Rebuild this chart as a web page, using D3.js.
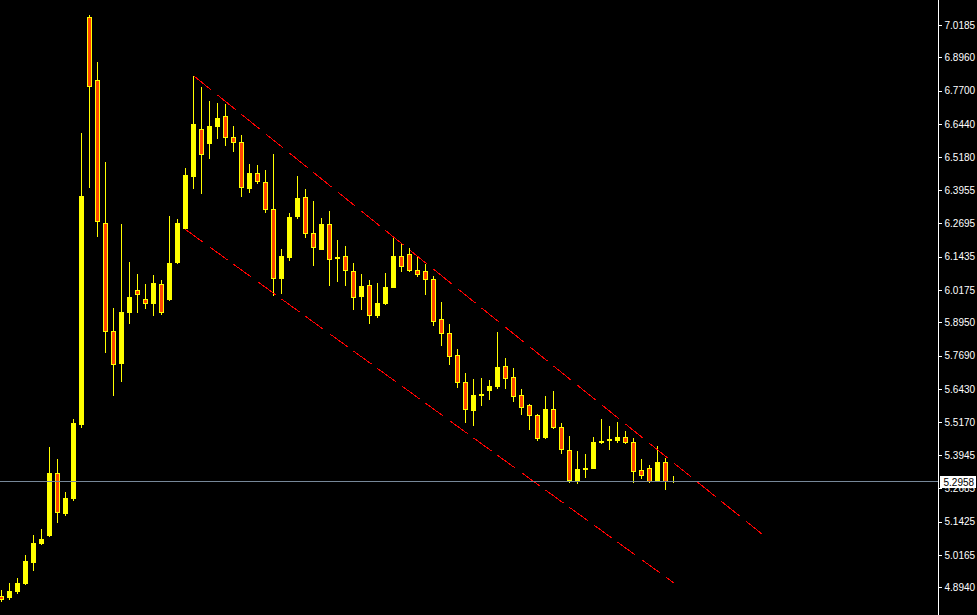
<!DOCTYPE html>
<html>
<head>
<meta charset="utf-8">
<script src="https://cdn.jsdelivr.net/npm/d3@7"></script>
<style>
html,body{margin:0;padding:0;background:#000;overflow:hidden;}
svg{display:block;}
</style>
</head>
<body>
<svg id="chart" width="977" height="615"></svg>
<script>
// ---- data ----
const opens = [4.8624,4.8548,4.8775,4.9077,4.9871,5.0589,5.0891,5.3260,5.1722,5.2277,
5.5073,7.0487,6.8107,6.2693,5.8624,5.7389,5.9316,6.0173,5.9833,5.9656,
6.0400,5.9796,6.1193,6.2478,6.4442,6.6245,6.5701,6.6343,6.6747,6.5954,
6.5765,6.4000,6.4594,6.4254,6.3233,6.0589,6.1382,6.2943,6.3687,6.2327,
6.1696,6.2667,6.1356,6.1458,6.0880,5.9920,6.0373,5.9202,5.9644,6.0260,
6.1458,6.1533,6.0929,6.0891,6.0589,5.9078,5.8549,5.7718,5.6698,5.5613,
5.6180,5.6369,5.6509,5.7302,5.6886,5.6206,5.5829,5.5451,5.4593,5.5678,
5.4997,5.4129,5.2931,5.3384,5.3422,5.4404,5.4480,5.4469,5.4620,5.4431,
5.3373,5.3449,5.2931,5.3675,5.2931];
const highs = [4.8839,4.9104,4.9293,5.0162,5.0917,5.1144,5.4242,5.3789,5.2542,5.5300,
6.6105,7.0563,6.8787,6.5009,5.9493,6.2667,6.1231,6.0778,6.0400,6.0740,
6.0551,6.2969,6.2856,6.4783,6.8258,6.7843,6.7314,6.7238,6.7200,6.6369,
6.6029,6.4934,6.4896,6.4707,6.5311,6.1722,6.3082,6.4480,6.3989,6.3536,
6.2894,6.3158,6.2062,6.1836,6.1193,6.0778,6.0562,6.0449,6.0816,6.2138,
6.1911,6.1760,6.1420,6.1156,6.0702,5.9720,5.8889,5.7944,5.7038,5.6811,
5.6849,5.6773,5.8587,5.7604,5.7226,5.6433,5.5866,5.5500,5.6169,5.6358,
5.5149,5.4657,5.4091,5.3977,5.4620,5.5300,5.5035,5.5186,5.4846,5.4582,
5.3800,5.3562,5.4280,5.3826,5.3146];
const lows = [4.8397,4.8473,4.8700,4.9040,4.9569,5.0551,5.0853,5.1382,5.1646,5.2213,
5.4971,6.4038,6.2187,5.7805,5.6169,5.6709,5.8900,5.9316,5.9456,5.9202,
5.9240,5.9758,6.1156,6.2440,6.3989,6.3812,6.5134,6.5889,6.5625,6.5398,
6.3698,6.3849,6.4189,6.3094,5.9958,6.0034,6.1280,6.2867,6.2149,6.1091,
6.1666,6.0336,6.0487,6.0336,5.9429,5.9429,5.8900,5.9127,5.9607,6.0230,
6.0865,6.0865,6.0676,5.9996,5.8825,5.8069,5.7351,5.6482,5.5160,5.5047,
5.5802,5.6029,5.6444,5.6444,5.5953,5.5462,5.4895,5.4480,5.4555,5.4933,
5.3989,5.2893,5.2855,5.3082,5.3411,5.4367,5.4140,5.4404,5.4367,5.2893,
5.3044,5.2893,5.2920,5.2629,5.2893];
const closes = [4.8473,4.8802,4.9104,4.9935,5.0615,5.0766,5.3260,5.1760,5.2315,5.5149,
6.3725,6.7854,6.2754,5.8598,5.7351,5.9342,5.9909,5.9984,5.9656,6.0438,
5.9316,6.1193,6.2705,6.4518,6.6445,6.5285,6.6369,6.6671,6.5927,6.5738,
6.4038,6.4594,6.4265,6.3207,6.0600,6.1458,6.2931,6.3649,6.2300,6.1771,
6.2667,6.1318,6.1431,6.0880,5.9882,6.0336,5.9202,5.9693,6.0287,6.1458,
6.1054,6.0903,6.0751,6.0562,5.8976,5.8522,5.7653,5.6671,5.5651,5.6206,
5.6256,5.6546,5.7264,5.6822,5.6142,5.5727,5.5424,5.4555,5.5678,5.4971,
5.4117,5.2969,5.3411,5.3460,5.4431,5.4480,5.4544,5.4620,5.4404,5.3309,
5.3158,5.2931,5.3675,5.2931,5.2958];
const tickLabels = ["7.0185","6.8960","6.7700","6.6440","6.5180","6.3955","6.2695","6.1435","6.0175",
"5.8950","5.7690","5.6430","5.5170","5.3945","5.2685","5.1425","5.0165","4.8940"];
const lastPrice = 5.2958;
// channel lines: [barIndex, price] endpoints
const upperLine = [[24, 6.8270], [95, 5.0966]];
const lowerLine = [[23, 6.2459], [84, 4.9115]];

// ---- layout ----
const W = 977, H = 615, axisX = 938.5;
const svg = d3.select("#chart");
svg.append("rect").attr("width", W).attr("height", H).attr("fill", "#000");

const x = d3.scaleLinear().domain([0, 1]).range([1.5, 9.5]);
const y = d3.scaleLinear().domain([4.8940, 7.0185]).range([587.3, 25.0]);

const bars = opens.map((o, i) => ({i, o, h: highs[i], l: lows[i], c: closes[i]}));

const YEL = "#ffff00", BEAR = "#ff4500";
const g = svg.append("g").attr("shape-rendering", "crispEdges");

// wicks
g.selectAll("line.wick").data(bars).join("line")
  .attr("class", "wick")
  .attr("x1", d => x(d.i)).attr("x2", d => x(d.i))
  .attr("y1", d => y(d.h)).attr("y2", d => y(d.l))
  .attr("stroke", YEL).attr("stroke-width", 1);

// bull bodies
g.selectAll("rect.bull").data(bars.filter(d => d.c >= d.o)).join("rect")
  .attr("class", "bull")
  .attr("x", d => x(d.i) - 2.5).attr("width", 5)
  .attr("y", d => y(d.c))
  .attr("height", d => Math.max(1, y(d.o) - y(d.c)))
  .attr("fill", YEL);

// bear bodies
g.selectAll("rect.bear").data(bars.filter(d => d.c < d.o)).join("rect")
  .attr("class", "bear")
  .attr("x", d => x(d.i) - 2).attr("width", 4)
  .attr("y", d => y(d.o) + 0.5)
  .attr("height", d => Math.max(0.5, y(d.c) - y(d.o) - 1))
  .attr("fill", BEAR).attr("stroke", YEL).attr("stroke-width", 1);

// channel lines (dash 18 on / 6 off measured along x)
[upperLine, lowerLine].forEach(ln => {
  const x1 = x(ln[0][0]), y1 = y(ln[0][1]), x2 = x(ln[1][0]), y2 = y(ln[1][1]);
  const f = Math.hypot(x2 - x1, y2 - y1) / Math.abs(x2 - x1);
  svg.append("line")
    .attr("x1", x1).attr("y1", y1).attr("x2", x2).attr("y2", y2)
    .attr("stroke", "#ff0000").attr("stroke-width", 1)
    .attr("shape-rendering", "crispEdges")
    .attr("stroke-dasharray", (18 * f).toFixed(2) + "," + (6 * f).toFixed(2));
});

// last price line
svg.append("line")
  .attr("x1", 0).attr("x2", axisX)
  .attr("y1", Math.round(y(lastPrice)) + 0.5).attr("y2", Math.round(y(lastPrice)) + 0.5)
  .attr("stroke", "#778899").attr("stroke-width", 1)
  .attr("shape-rendering", "crispEdges");

// right axis
const axisG = svg.append("g").attr("transform", `translate(${axisX},0)`);
const axis = d3.axisRight(y)
  .tickValues(tickLabels.map(Number))
  .tickFormat((d, k) => tickLabels[k])
  .tickSize(3).tickPadding(3);
axisG.call(axis);
axisG.select(".domain").remove();
axisG.append("line").attr("x1", 0).attr("x2", 0).attr("y1", 0).attr("y2", H)
  .attr("stroke", "#ffffff").attr("stroke-width", 1).attr("shape-rendering", "crispEdges");
axisG.selectAll(".tick line").attr("stroke", "#ffffff").attr("shape-rendering", "crispEdges");
axisG.selectAll(".tick text")
  .attr("fill", "#ffffff")
  .style("font-family", "'Liberation Sans', Arial, sans-serif")
  .style("font-size", "10px");

// last price label box (covers part of the 5.2685 label, as in the reference)
const py = Math.round(y(lastPrice)) + 0.5;
svg.append("rect")
  .attr("x", axisX + 1.5).attr("y", py - 5.5).attr("width", 36).attr("height", 12)
  .attr("fill", "#ffffff").attr("shape-rendering", "crispEdges");
svg.append("text")
  .attr("x", axisX + 5).attr("y", py + 0.5).attr("dy", "0.35em")
  .attr("fill", "#000000")
  .style("font-family", "'Liberation Sans', Arial, sans-serif")
  .style("font-size", "10px")
  .text(lastPrice.toFixed(4));
</script>
</body>
</html>
